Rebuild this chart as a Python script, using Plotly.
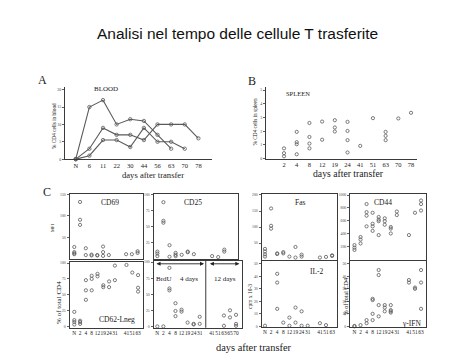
import plotly.graph_objects as go

W, H = 474, 355

# ---------------- data ----------------
title_text = "Analisi nel tempo delle cellule T trasferite"

# Panel A - blood
days_A = ["N", "6", "11", "22", "30", "44", "56", "63", "70", "78"]
blood_1 = [0, 15, 17, 10, 11.5, 11, 7, 3, None, None]
blood_2 = [0, 3, 9, 7, 7, 5.5, 10, 10, 10, 6]
blood_3 = [0, 1, 5.5, 5.5, 3.5, 9, 5, 5, 3, None]

# Panel B - spleen
days_B = ["2", "4", "8", "12", "19", "24", "41", "51", "63", "70", "78"]
spleen_days = ["2", "2", "2", "4", "4", "4", "4", "8", "8", "8", "8", "12", "12",
               "19", "19", "19", "24", "24", "24", "24", "41", "51", "63", "63", "63", "70", "78"]
spleen_vals = [0.75, 0.4, 0.17, 1.95, 1.2, 1.05, 0.32, 2.6, 1.58, 1.1, 0.75, 2.7, 1.38,
               2.8, 2.27, 1.98, 2.68, 2.02, 1.35, 0.45, 0.93, 2.95, 1.95, 1.66, 1.35, 2.93, 3.34]

# Panel C - x categories (" " = gap between the two time blocks)
days_C = ["N", "2", "4", "8", "12", "19", "24", "31", " ", "41", "51", "63"]
days_brdu = ["N", "2", "4", "8", "12", "19", "24", "31", " ", "41", "51", "63", "65", "70"]

cd69_days = ["N", "N", "N", "N", "2", "2", "2", "4", "4", "8", "8", "12", "12",
             "19", "19", "19", "24", "41", "51", "63", "63"]
cd69_vals = [27, 15, 12, 10, 133, 91, 79, 24, 8, 9, 7, 8, 7, 28, 15, 6, 8, 10, 10, 17, 13]

cd25_days = ["N", "N", "N", "2", "2", "2", "4", "4", "8", "8", "8", "12", "19", "19",
             "24", "41", "51", "63", "63"]
cd25_vals = [11, 8, 4, 88, 59, 56, 21, 3, 9, 6, 4, 6, 11, 10, 7, 4, 2.5, 14, 11]

fas_days = ["N", "N", "N", "N", "2", "2", "2", "4", "4", "8", "8", "12", "19", "19",
            "24", "24", "41", "51", "63", "63"]
fas_vals = [32, 24, 15, 8, 158, 104, 95, 18, 16, 22, 18, 8, 38, 5, 14, 8, 5, 7, 12, 10]

cd44_days = ["N", "N", "N", "2", "2", "2", "4", "4", "4", "4", "8", "8", "8", "8",
             "12", "12", "12", "12", "19", "19", "19", "24", "24", "24", "31", "31",
             "41", "51", "63", "63", "63"]
cd44_vals = [225, 185, 150, 350, 310, 250, 860, 735, 680, 515, 725, 555, 515, 445,
             660, 620, 595, 380, 640, 595, 540, 505, 480, 405, 745, 690,
             380, 725, 915, 860, 760]

cd62_days = ["N", "N", "N", "N", "2", "2", "2", "4", "4", "4", "8", "8", "8", "12", "12",
             "19", "19", "24", "24", "31", "31", "41", "51", "63", "63", "63"]
cd62_vals = [23, 10, 7, 3, 9, 7, 4, 73, 57, 42, 80, 75, 57, 83, 79,
             65, 62, 71, 62, 96, 73, 97, 85, 81, 61, 55]

brdu_days = ["N", "2", "4", "4", "4", "8", "8", "8", "12", "12", "19", "24", "24",
             "31", "31", "63", "63", "65", "65", "70", "70", "70"]
brdu_vals = [0, 0, 91, 59, 56, 36, 24, 16, 26, 23, 6, 4, 3, 15, 4, 17, 1, 25, 14, 18, 4, 1]

il2_days = ["N", "4", "4", "4", "8", "12", "12", "19", "19", "24", "24", "31", "41", "51"]
il2_vals = [0.5, 42, 35, 14, 3, 7, 0.5, 15, 3, 12, 0.5, 0.5, 2.5, 1]

ifn_days = ["N", "N", "2", "4", "4", "8", "8", "8", "8", "12", "12", "12", "12",
            "19", "19", "19", "24", "24", "24", "24", "41", "41", "51", "51", "63", "63", "63"]
ifn_vals = [0.3, 0, 1, 5, 2.5, 22, 21, 10, 5, 45, 41, 17, 8,
            17, 15, 12, 17, 13, 12, 11, 37, 35, 31, 30, 45, 35, 14]

# ---------------- helpers ----------------
def dx(a, b):
    return [a / W, b / W]

def dy(top, bot):
    return [1 - bot / H, 1 - top / H]

SERIF = "Liberation Serif, Times New Roman, serif"
INK = "#3a3a3a"
MARK = "#5a5a5a"

fig = go.Figure()

def scatter(xs, ys, ax, mode="markers", size=3.2):
    n = "" if ax == 1 else str(ax)
    fig.add_trace(go.Scatter(
        x=xs, y=ys, mode=mode, xaxis="x" + n, yaxis="y" + n,
        line=dict(color=MARK, width=1.1),
        marker=dict(symbol="circle-open", size=size, color=MARK, line=dict(width=0.8, color=MARK)),
        connectgaps=False, showlegend=False, hoverinfo="skip", cliponaxis=False))

# Panel A
for s in (blood_1, blood_2, blood_3):
    scatter(days_A, s, 1, mode="lines+markers", size=3.4)
# Panel B
scatter(spleen_days, spleen_vals, 2, size=3.2)
# Panel C
scatter(cd69_days, cd69_vals, 3)
scatter(cd25_days, cd25_vals, 4)
scatter(fas_days, fas_vals, 5)
scatter(cd44_days, cd44_vals, 6)
scatter(cd62_days, cd62_vals, 7)
scatter(brdu_days, brdu_vals, 8)
scatter(il2_days, il2_vals, 9)
scatter(ifn_days, ifn_vals, 10)

layout = dict(
    width=W, height=H, autosize=False,
    margin=dict(l=0, r=0, t=0, b=0, pad=0),
    paper_bgcolor="white", plot_bgcolor="white",
    showlegend=False,
)

def xaxis(cats, dom, rng, anchor, labels=True, mirror=False, fs=6.5):
    shown = [c for c in cats if c.strip()]
    return dict(type="category", categoryorder="array", categoryarray=cats,
                domain=dom, range=rng, anchor=anchor,
                tickmode="array", tickvals=shown, ticktext=shown,
                showline=True, linecolor=INK, linewidth=1, mirror=mirror,
                showgrid=False, zeroline=False, ticks="", showticklabels=labels,
                tickfont=dict(family=SERIF, size=fs, color="#222"), tickangle=0,
                fixedrange=True)

def yaxis(dom, rng, anchor, tickvals, mirror=False, fs=4):
    return dict(domain=dom, range=rng, anchor=anchor,
                showline=True, linecolor=INK, linewidth=1, mirror=mirror,
                showgrid=False, zeroline=False, ticks="outside", ticklen=2,
                tickwidth=0.8, tickcolor=INK, tickvals=tickvals,
                tickfont=dict(family=SERIF, size=fs, color="#444"),
                fixedrange=True)

# A
layout["xaxis"] = xaxis(days_A, dx(65, 212), [-0.79, 10.0], "y", fs=6.5)
layout["yaxis"] = yaxis(dy(87, 159.5), [0, 20.7], "x", [0, 5, 10, 15, 20])
# B
layout["xaxis2"] = xaxis(days_B, dx(266, 417), [-1.42, 10.47], "y2", fs=6.5)
layout["yaxis2"] = yaxis(dy(87, 159), [0, 5.2], "x2", [0, 1, 2, 3, 4, 5])

# C boxes
boxes = {
    3: (days_C, (69.5, 142.5), (194.5, 260.5), [-0.83, 11.85], [-2, 152], [50, 100, 150], False),
    4: (days_brdu, (153.5, 238), (194.5, 260.5), [-0.63, 13.25], [-1, 101], [25, 50, 75, 100], False),
    5: (days_C, (261.5, 337), (195, 261), [-0.57, 11.8], [-2, 202], [50, 100, 150, 200], False),
    6: (days_C, (350, 426), (195, 261.5), [-0.74, 11.82], [-10, 1010], [200, 400, 600, 800, 1000], False),
    7: (days_C, (69.5, 143), (263, 329.5), [-0.83, 11.85], [-2, 102], [0, 25, 50, 75, 100], True),
    8: (days_brdu, (153.5, 241.5), (262, 329.5), [-0.63, 13.9], [-2, 102], [0, 25, 50, 75, 100], True),
    9: (days_C, (261.5, 337), (262.5, 328.5), [-0.57, 11.8], [-0.3, 52], [0, 10, 20, 30, 40, 50], True),
    10: (days_C, (350, 426), (262.5, 328.5), [-0.74, 11.82], [-0.3, 52], [0, 10, 20, 30, 40, 50], True),
}
for k, (cats, xs, ys, xr, yr, tv, lab) in boxes.items():
    layout["xaxis%d" % k] = xaxis(cats, dx(*xs), xr, "y%d" % k, labels=lab, mirror=True, fs=5.4)
    layout["yaxis%d" % k] = yaxis(dy(*ys), yr, "x%d" % k, tv, mirror=True, fs=3.8)

fig.update_layout(**layout)

anns = []

def txt(t, px, py, size, family=SERIF, angle=0, xanchor="center", color="#1a1a1a"):
    anns.append(dict(text=t, x=px / W, y=1 - py / H, xref="paper", yref="paper",
                     showarrow=False, xanchor=xanchor, yanchor="middle", textangle=angle,
                     font=dict(family=family, size=size, color=color)))

txt(title_text, 237, 33, 15.5, family="Liberation Sans, Arial, sans-serif", color="#111")
txt("A", 42, 80, 12)
txt("B", 252, 81, 12)
txt("C", 47, 193, 12)
txt("BLOOD", 106, 89, 7)
txt("SPLEEN", 298, 93, 6.5)
txt("days after transfer", 153, 175.5, 8.6)
txt("days after transfer", 348, 173.5, 9.7)
txt("days after transfer", 254, 349, 10.4)
txt("% CD4 cells in blood", 54, 126, 5.3, angle=-90)
txt("% CD4 cells in spleen", 254.5, 122, 5.3, angle=-90)
txt("MFI", 52, 229, 4.5, angle=-90)
txt("% of total CD4", 59.5, 304, 7, angle=-90)
txt("cpm x 10-3", 250.5, 298, 5.5, angle=-90)
txt("% of total CD4", 345, 298, 6.2, angle=-90)
txt("CD69", 110, 203, 7.5)
txt("CD25", 193, 203, 7.5)
txt("Fas", 300, 203.5, 7.5)
txt("CD44", 383, 203, 7.5)
txt("CD62-Lneg", 117, 321.5, 7.5)
txt("IL-2", 317, 272.5, 7.5)
txt("γ-IFN", 423, 325.5, 7.5, xanchor="right")
txt("BrdU", 163.5, 280.7, 7)
txt("4 days", 188.5, 280.7, 7)
txt("12 days", 225, 280.7, 7)

# BrdU double arrows (in BrdU axis coordinates)
for x0, x1 in ((-0.38, 7.72), (8.43, 13.55)):
    anns.append(dict(text="", x=x1, y=97.3, ax=x0, ay=97.3, xref="x8", yref="y8",
                     axref="x8", ayref="y8", showarrow=True, arrowhead=2, arrowside="end+start",
                     arrowsize=0.9, arrowwidth=0.9, arrowcolor="#222"))

fig.update_layout(annotations=anns)

# divider between the two BrdU periods
fig.add_shape(type="line", xref="x8", yref="y8 domain", x0=8, x1=8, y0=0, y1=1,
              line=dict(color=INK, width=1))

fig.write_html("out.html", config={"displayModeBar": False, "staticPlot": True},
               post_script="document.body.style.margin='0';")
